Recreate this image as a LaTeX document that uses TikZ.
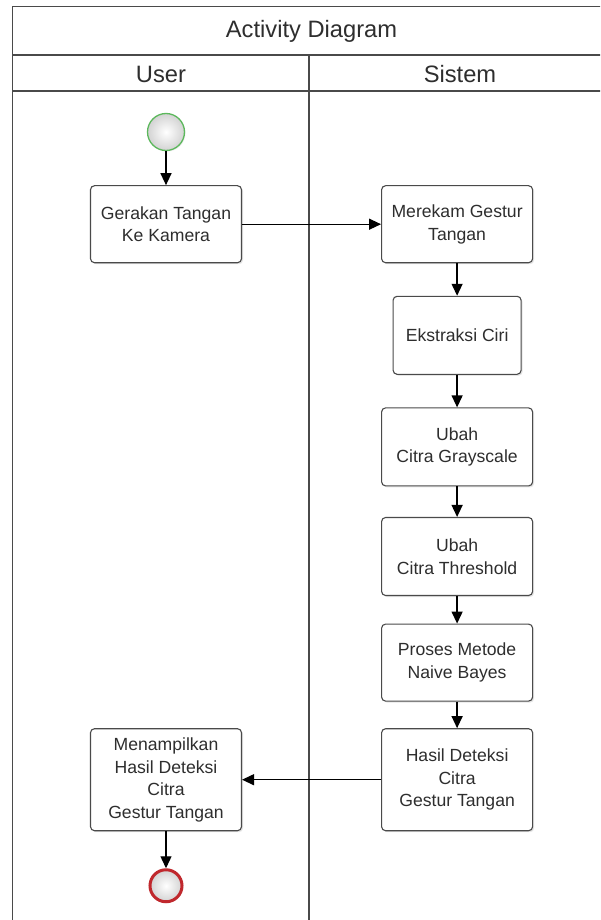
\documentclass[tikz,border=0pt]{standalone}
\usepackage{fontspec}
\setmainfont{Liberation Sans}
\usetikzlibrary{positioning, shadows, arrows.meta}

\definecolor{lineGray}{HTML}{4A4A4A}
\definecolor{textGray}{HTML}{2E2E2E}
\definecolor{startGreen}{HTML}{5CB85C}
\definecolor{endRed}{HTML}{C0282D}

\begin{document}
\begin{tikzpicture}[
    x=1pt, y=-1pt,
    lane/.style={draw=lineGray, line width=1.3pt},
    header/.style={font=\fontsize{23.7}{27}\selectfont, text=textGray},
    action/.style={rectangle, draw=lineGray, line width=1.1pt, rounded corners=4pt, fill=white,
        minimum width=151pt, minimum height=77pt, align=center, inner sep=2pt,
        font=\fontsize{17.6}{22.5}\selectfont, text=textGray,
        drop shadow={shadow xshift=1.5pt, shadow yshift=-1.5pt, opacity=0.2}},
    startnode/.style={circle, draw=startGreen, line width=1.3pt, minimum size=37pt, inner sep=0pt,
        inner color=white, outer color=gray!35,
        drop shadow={shadow xshift=1pt, shadow yshift=-1pt, opacity=0.15}},
    endnode/.style={circle, draw=endRed, line width=3pt, minimum size=32pt, inner sep=0pt,
        inner color=white, outer color=gray!35,
        drop shadow={shadow xshift=1pt, shadow yshift=-1pt, opacity=0.15}},
    arrow/.style={-{Triangle[length=12pt, width=11pt]}, line width=1.3pt, draw=black}
]
\useasboundingbox (0,0) rectangle (600,920);
\clip (0,0) rectangle (600,920);

% Swimlane frame
\fill[white] (0,0) rectangle (600,920);
\draw[lane] (12.7,940) -- (12.7,6.7) -- (620,6.7);
\draw[lane] (12.7,55) -- (620,55);
\draw[lane] (12.7,91) -- (620,91);
\draw[lane] (309,55) -- (309,940);
\node[header] (title) at (311.5,31) {Activity Diagram};
\node[header] (user) at (161,74) {User};
\node[header] (sistem) at (460,74) {Sistem};

% Initial node
\node[startnode] (start) at (166,132) {};

% User actions
\node[action, below=34pt of start] (gerakan) {Gerakan Tangan\\Ke Kamera};

% Sistem actions
\node[action, right=139pt of gerakan] (merekam) {Merekam Gestur\\Tangan};
\node[action, minimum width=128pt, minimum height=78pt, below=32.5pt of merekam] (ekstraksi) {Ekstraksi Ciri};
\node[action, minimum height=78pt, below=32.5pt of ekstraksi] (grayscale) {Ubah\\Citra Grayscale};
\node[action, minimum height=78pt, below=30.5pt of grayscale] (threshold) {Ubah\\Citra Threshold};
\node[action, below=27.5pt of threshold] (bayes) {Proses Metode\\Naive Bayes};
\node[action, minimum height=102pt, below=26.5pt of bayes] (hasil) {Hasil Deteksi\\Citra\\Gestur Tangan};

% Back to user
\node[action, minimum height=102pt, left=139pt of hasil] (tampil) {Menampilkan\\Hasil Deteksi\\Citra\\Gestur Tangan};

% Final node
\node[endnode, below=37pt of tampil] (finish) {};

% Flows
\draw[arrow] (start) -- (gerakan);
\draw[arrow] (gerakan) -- (merekam);
\draw[arrow] (merekam) -- (ekstraksi);
\draw[arrow] (ekstraksi) -- (grayscale);
\draw[arrow] (grayscale) -- (threshold);
\draw[arrow] (threshold) -- (bayes);
\draw[arrow] (bayes) -- (hasil);
\draw[arrow] (hasil) -- (tampil);
\draw[arrow] (tampil) -- (finish);

\end{tikzpicture}
\end{document}
